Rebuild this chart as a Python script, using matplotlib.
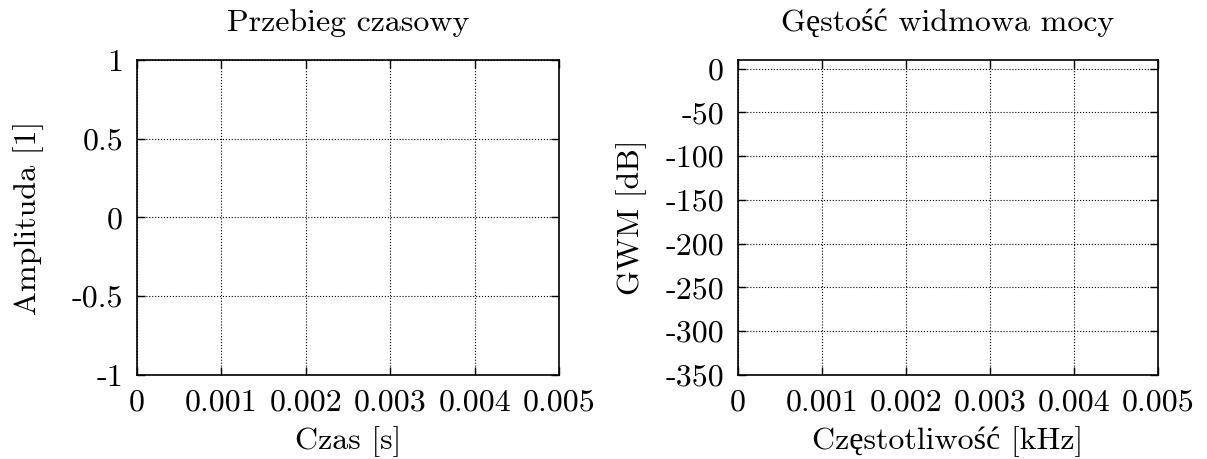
import matplotlib.pyplot as plt

# fonts: Computer Modern look, fallback for Polish letters
plt.rcParams['font.family'] = ['cmr10', 'Liberation Serif']
plt.rcParams['axes.unicode_minus'] = False

# data (signal is empty in the reference)
czas = []
amplituda = []
czestotliwosc = []
gwm = []

x_ticks = [0, 0.001, 0.002, 0.003, 0.004, 0.005]
x_labels = ['0', '0.001', '0.002', '0.003', '0.004', '0.005']
amp_ticks = [-1, -0.5, 0, 0.5, 1]
amp_labels = ['-1', '-0.5', '0', '0.5', '1']
gwm_ticks = [-350, -300, -250, -200, -150, -100, -50, 0]
gwm_labels = ['-350', '-300', '-250', '-200', '-150', '-100', '-50', '0']

fs = 23
fig = plt.figure(figsize=(12.07, 4.59), dpi=100)
ax1 = fig.add_axes([0.1135, 0.183, 0.3496, 0.6863])
ax2 = fig.add_axes([0.6114, 0.183, 0.348, 0.6863])


def styl(ax):
    ax.tick_params(direction='in', top=True, right=True, length=6, width=1,
                   labelsize=fs, pad=10)
    ax.grid(True, linestyle=':', color='black', linewidth=0.8)
    for s in ax.spines.values():
        s.set_linewidth(1.2)


ax1.plot(czas, amplituda, color='red')
ax1.set_xlim(0, 0.005)
ax1.set_ylim(-1, 1)
ax1.set_xticks(x_ticks, x_labels)
ax1.set_yticks(amp_ticks, amp_labels)
ax1.set_title('Przebieg czasowy', fontsize=fs, pad=21)
ax1.set_xlabel('Czas [s]', fontsize=fs, labelpad=7)
ax1.set_ylabel('Amplituda [1]', fontsize=fs, labelpad=20)
styl(ax1)

ax2.plot(czestotliwosc, gwm, color='red')
ax2.set_xlim(0, 0.005)
ax2.set_ylim(-350, 10)
ax2.set_xticks(x_ticks, x_labels)
ax2.set_yticks(gwm_ticks, gwm_labels)
ax2.set_title('Gęstość widmowa mocy', fontsize=fs, pad=21)
ax2.set_xlabel('Częstotliwość [kHz]', fontsize=fs, labelpad=7)
ax2.set_ylabel('GWM [dB]', fontsize=fs, labelpad=13)
styl(ax2)

fig.savefig('out.png', dpi=100)
